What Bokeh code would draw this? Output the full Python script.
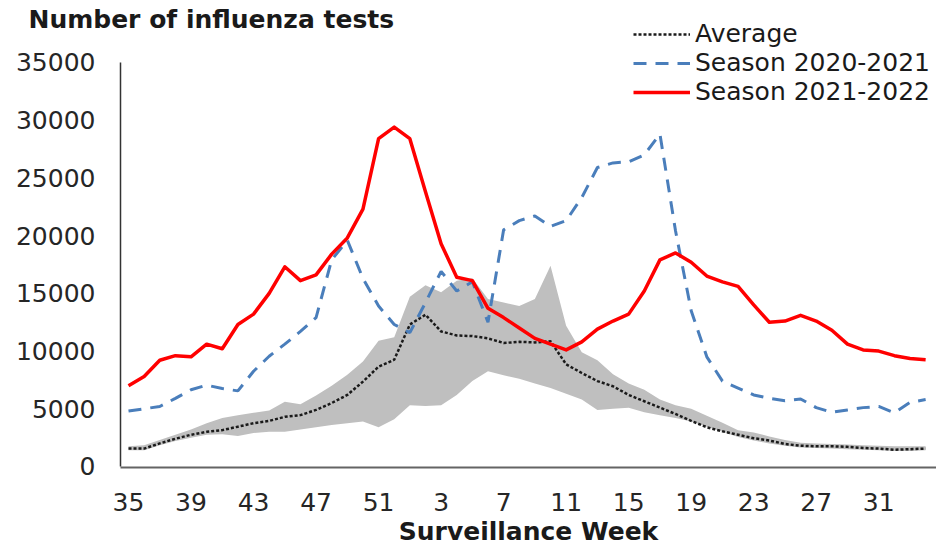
from bokeh.plotting import figure
from bokeh.models import Range1d, FixedTicker, Title
from bokeh.embed import file_html
from bokeh.resources import INLINE

# ---------------- data ----------------
weeks = [35, 36, 37, 38, 39, 40, 41, 42, 43, 44, 45, 46, 47, 48, 49, 50, 51, 52,
         1, 2, 3, 4, 5, 6, 7, 8, 9, 10, 11, 12, 13, 14, 15, 16, 17, 18, 19, 20,
         21, 22, 23, 24, 25, 26, 27, 28, 29, 30, 31, 32, 33, 34]

average = [1550, 1550, 2000, 2400, 2750, 3000, 3150, 3450, 3750, 3950,
           4300, 4450, 4900, 5500, 6200, 7350, 8650, 9250, 12300, 13150,
           11700, 11350, 11300, 11100, 10700, 10800, 10750, 10850, 8850, 8100,
           7400, 6950, 6200, 5650, 5100, 4550, 3950, 3400, 3050, 2750,
           2450, 2250, 1950, 1800, 1750, 1750, 1700, 1600, 1550, 1450,
           1500, 1550]

season_2020_2021 = [4800, 5000, 5200, 5900, 6650, 7050, 6750, 6550, 8250, 9550,
                    10600, 11700, 12900, 17900, 19600, 16300, 13900, 12300, 11600, 14200,
                    16900, 15200, 16000, 12500, 20500, 21300, 21700, 20800, 21300, 23300,
                    25900, 26300, 26400, 27000, 28800, 20400, 13500, 9500, 7400, 6800,
                    6200, 5900, 5700, 5850, 5100, 4700, 4900, 5100, 5200, 4650,
                    5550, 5800]

season_2021_2022 = [7000, 7800, 9200, 9600, 9500, 10600, 10200, 12300, 13200, 15000,
                    17300, 16100, 16600, 18400, 19800, 22300, 28400, 29400, 28400, 23800,
                    19300, 16400, 16100, 13700, 12900, 12000, 11100, 10600, 10100, 10800,
                    11900, 12600, 13200, 15200, 17900, 18500, 17700, 16500, 16000, 15600,
                    14000, 12500, 12600, 13100, 12600, 11800, 10600, 10100, 10000, 9600,
                    9350, 9250]

range_high = [1750, 1850, 2300, 2750, 3200, 3750, 4200, 4450, 4650, 4850,
              5600, 5400, 6150, 7000, 7950, 9100, 10900, 11200, 14700, 15700,
              15100, 16100, 16300, 14500, 14200, 13900, 14500, 17400, 12200, 9900,
              9200, 8000, 7200, 6650, 5800, 5300, 5000, 4400, 3800, 3150,
              2950, 2600, 2300, 2050, 2000, 1950, 1900, 1850, 1800, 1750,
              1750, 1750]

range_low = [1400, 1400, 1850, 2200, 2500, 2750, 2800, 2650, 2900, 3000,
             3000, 3200, 3400, 3600, 3750, 3900, 3400, 4100, 5300, 5250,
             5300, 6200, 7400, 8250, 7900, 7600, 7200, 6800, 6300, 5800,
             4900, 5000, 5100, 4700, 4450, 4200, 3900, 3450, 3000, 2550,
             2250, 2000, 1800, 1650, 1600, 1550, 1500, 1450, 1400, 1350,
             1350, 1400]

tick_weeks = [35, 39, 43, 47, 51, 3, 7, 11, 15, 19, 23, 27, 31]
y_ticks = [0, 5000, 10000, 15000, 20000, 25000, 30000, 35000]

title_text = "Number of influenza tests"
x_label_text = "Surveillance Week"

# ---------------- figure ----------------
x = list(range(len(weeks)))
tick_index = [weeks.index(w) for w in tick_weeks]

FONT = "DejaVu Sans"

p = figure(width=936, height=555, output_backend="svg", toolbar_location=None,
           x_range=Range1d(-0.512, 51.695), y_range=Range1d(-87, 38725),
           min_border_left=120, min_border_right=0, min_border_top=19,
           min_border_bottom=88)
p.title = Title(text=title_text, align="left", offset=-92, standoff=-31,
                vertical_align="middle",
                text_font=FONT, text_font_style="bold", text_font_size="25px",
                text_color="#1a1a1a")
p.outline_line_color = None
p.grid.visible = False
p.background_fill_color = "white"
p.border_fill_color = "white"

p.varea(x=x, y1=range_low, y2=range_high, fill_color="#BFBFBF")
p.line(x, average, line_color="#1a1a1a", line_width=2.5, line_dash="3 2",
       legend_label="Average")
p.line(x, season_2020_2021, line_color="#4A7EBB", line_width=3, line_dash="13 9",
       legend_label="Season 2020-2021")
p.line(x, season_2021_2022, line_color="#FF0000", line_width=3.5, line_join="round",
       legend_label="Season 2021-2022")

# x axis
xa = p.xaxis[0]
xa.ticker = FixedTicker(ticks=tick_index)
xa.major_label_overrides = {i: str(w) for i, w in zip(tick_index, tick_weeks)}
xa.major_tick_line_color = None
xa.minor_tick_line_color = None
xa.major_tick_out = 0
xa.major_tick_in = 0
xa.major_label_standoff = 25
xa.major_label_text_font = FONT
xa.major_label_text_font_size = "25px"
xa.major_label_text_color = "#262626"
xa.axis_line_color = "#646464"
xa.axis_line_width = 2

p.add_layout(Title(text=x_label_text, align="center", offset=35, standoff=3,
                   vertical_align="bottom",
                   text_font=FONT, text_font_style="bold", text_font_size="25px",
                   text_color="#1a1a1a"), "below")

# y axis
ya = p.yaxis[0]
ya.ticker = FixedTicker(ticks=y_ticks)
ya.bounds = (0, 35000)
ya.major_tick_line_color = None
ya.minor_tick_line_color = None
ya.major_tick_out = 0
ya.major_tick_in = 0
ya.major_label_standoff = 25
ya.major_label_text_font = FONT
ya.major_label_text_font_size = "25px"
ya.major_label_text_color = "#262626"
ya.axis_line_color = "#333333"
ya.axis_line_width = 1.5

# legend
lg = p.legend[0]
lg.location = (513, 361)
lg.padding = 0
lg.margin = 0
lg.spacing = 0
lg.border_line_color = None
lg.background_fill_alpha = 0
lg.glyph_width = 57
lg.glyph_height = 28
lg.label_height = 28
lg.label_standoff = 5
lg.label_text_font = FONT
lg.label_text_font_size = "25px"
lg.label_text_color = "#1a1a1a"

open("out.html", "w").write(file_html(p, INLINE))
